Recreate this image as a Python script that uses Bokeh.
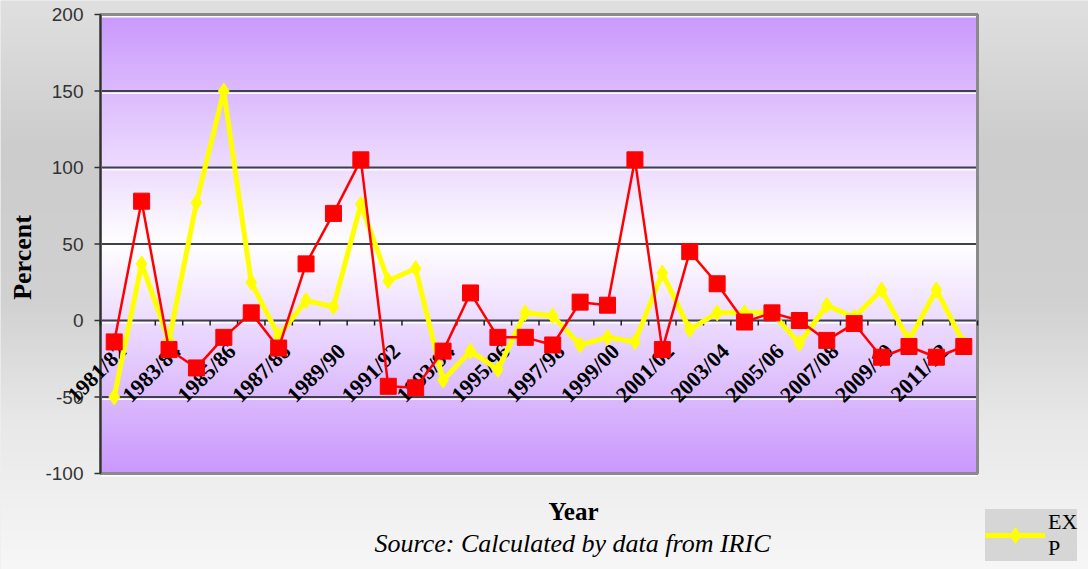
import numpy as np
from bokeh.plotting import figure
from bokeh.models import Range1d, Label, Legend, LegendItem
from bokeh.core.properties import value
from bokeh.embed import file_html
from bokeh.resources import INLINE

# ---------------- data ----------------
categories = ["1981/82", "1982/83", "1983/84", "1984/85", "1985/86", "1986/87",
              "1987/88", "1988/89", "1989/90", "1990/91", "1991/92", "1992/93",
              "1993/94", "1994/95", "1995/96", "1996/97", "1997/98", "1998/99",
              "1999/00", "2000/01", "2001/02", "2002/03", "2003/04", "2004/05",
              "2005/06", "2006/07", "2007/08", "2008/09", "2009/10", "2010/11",
              "2011/12", "2012/13"]
exp_values = [-50, 37, -13, 77, 150, 25, -10, 13, 9, 76, 26, 34,
              -39, -20, -32, 5, 3, -16, -11, -14, 31, -6, 5, 5,
              5, -15, 10, 2, 20, -13, 20, -15]
imp_values = [-14, 78, -19, -31, -11, 5, -18, 37, 70, 105, -43, -44,
              -20, 18, -11, -11, -16, 12, 10, 105, -19, 45, 24, -1,
              5, 0, -13, -2, -24, -17, -24, -17]
y_ticks = [-100, -50, 0, 50, 100, 150, 200]
series_label = "EX\nP"
y_title = "Percent"
x_title = "Year"
source_text = "Source: Calculated by data from IRIC"

xs = list(range(len(categories)))
label_idx = [i for i in xs if i % 2 == 0]
label_txt = [categories[i] for i in label_idx]

# ---------------- geometry (pixels inside the figure) ----------------
FW, FH = 1088, 569
PL, PR, PT, PB = 100, 977, 14, 473
xlo, xhi = -0.5, len(categories) - 0.5
ylo, yhi = y_ticks[0], y_ticks[-1]
sx = (PR - PL) / (xhi - xlo)
sy = (PB - PT) / (yhi - ylo)
x_start = xlo - PL / sx
x_end = xhi + (FW - PR) / sx
y_end = yhi + PT / sy
y_start = ylo - (FH - PB) / sy


def dx(px):
    return x_start + px / sx


def dy(py):
    return y_end - py / sy


p = figure(width=FW, height=FH, output_backend="svg", toolbar_location=None,
           x_range=Range1d(x_start, x_end), y_range=Range1d(y_start, y_end),
           x_axis_location=None, y_axis_location=None,
           min_border=0, min_border_left=0, min_border_right=0,
           min_border_top=0, min_border_bottom=0)
p.xgrid.visible = False
p.ygrid.visible = False
p.outline_line_color = None
p.border_fill_color = "#e0e0e0"
p.background_fill_color = "#e0e0e0"

# outer grey gradient
HO = 285
outer = np.empty((HO, 2), dtype=np.uint32)
ov = outer.view(dtype=np.uint8).reshape((HO, 2, 4))
for r in range(HO):
    py = FH - (r + 0.5) * FH / HO
    g = np.interp(py, [0, 150, 300, 420, 569], [224, 204, 209, 232, 247])
    ov[r, :, 0] = int(g)
    ov[r, :, 1] = int(g)
    ov[r, :, 2] = int(g)
    ov[r, :, 3] = 255
p.image_rgba(image=[outer], x=x_start, y=y_start, dw=x_end - x_start,
             dh=y_end - y_start, level="image")

# plot-area gradient: purple at the edges, white in the middle
H = 300
img = np.empty((H, 2), dtype=np.uint32)
view = img.view(dtype=np.uint8).reshape((H, 2, 4))
purple = np.array([202, 152, 253], dtype=float)
white = np.array([255, 255, 255], dtype=float)
mid = (ylo + yhi) / 2
half = (yhi - ylo) / 2
for r in range(H):
    v = ylo + (r + 0.5) * (yhi - ylo) / H
    t = abs(v - mid) / half
    c = white * (1 - t) + purple * t
    view[r, :, 0] = int(c[0])
    view[r, :, 1] = int(c[1])
    view[r, :, 2] = int(c[2])
    view[r, :, 3] = 255
p.image_rgba(image=[img], x=xlo, y=ylo, dw=xhi - xlo, dh=yhi - ylo, level="image")

# gridlines (dark line with a white highlight under it)
p.segment(x0=[xlo] * len(y_ticks), x1=[xhi] * len(y_ticks),
          y0=[t - 2.2 / sy for t in y_ticks], y1=[t - 2.2 / sy for t in y_ticks],
          line_color="#ffffff", line_width=1.5)
p.segment(x0=[xlo] * len(y_ticks), x1=[xhi] * len(y_ticks),
          y0=y_ticks, y1=y_ticks, line_color="#3f3f4f", line_width=2)

# plot area border
p.quad(left=[xlo], right=[xhi], bottom=[ylo], top=[yhi], fill_color=None,
       line_color="#8a8a8a", line_width=3)

# y axis line, ticks and labels
p.segment(x0=[xlo], x1=[xlo], y0=[ylo], y1=[yhi], line_color="#303030", line_width=2)
p.segment(x0=[xlo - 6 / sx] * len(y_ticks), x1=[xlo] * len(y_ticks),
          y0=y_ticks, y1=y_ticks, line_color="#303030", line_width=1.5)
p.text(x=[xlo] * len(y_ticks), y=y_ticks, text=[str(t) for t in y_ticks],
       x_offset=-17, text_align="right", text_baseline="middle",
       text_font=value("Liberation Sans"), text_font_size="19px",
       text_color="#333333")

# x axis (at zero) ticks and labels
bounds = [i - 0.5 for i in range(len(categories) + 1)]
p.segment(x0=bounds, x1=bounds, y0=[0] * len(bounds), y1=[-5 / sy] * len(bounds),
          line_color="#202020", line_width=1.5)
p.text(x=label_idx, y=[0] * len(label_idx), text=label_txt, angle=np.pi / 4,
       x_offset=8, y_offset=27, text_align="right", text_baseline="middle",
       text_font=value("Liberation Serif"), text_font_style="bold",
       text_font_size="22px", text_color="#000000")

# series
yl = p.line(xs, exp_values, line_color="#ffff00", line_width=5)
yd = p.scatter(xs, exp_values, marker="diamond", size=16, fill_color="#ffff00",
               line_color="#ffff00")
p.line(xs, imp_values, line_color="#ff0000", line_width=2.5)
p.scatter(xs, imp_values, marker="square", size=16, fill_color="#ff0000",
          line_color="#ff0000")

# titles
p.add_layout(Label(x=dx(22), y=dy(257), text=y_title, angle=np.pi / 2,
                   text_align="center", text_baseline="middle",
                   text_font="Liberation Serif", text_font_style="bold",
                   text_font_size="26px", text_color="#000000"))
p.add_layout(Label(x=dx(573), y=dy(511), text=x_title,
                   text_align="center", text_baseline="middle",
                   text_font="Liberation Serif", text_font_style="bold",
                   text_font_size="25px", text_color="#000000"))
p.add_layout(Label(x=dx(572), y=dy(543), text=source_text,
                   text_align="center", text_baseline="middle",
                   text_font="Liberation Serif", text_font_style="italic",
                   text_font_size="26px", text_color="#000000"))

legend = Legend(items=[LegendItem(label=series_label, renderers=[yl, yd])],
                location=(985, 8), orientation="vertical",
                label_text_font="Liberation Serif", label_text_font_size="22px",
                label_text_line_height=1.5,
                label_text_color="#000000", glyph_width=60, glyph_height=40,
                label_standoff=3, padding=12, margin=0, spacing=0,
                background_fill_color="#d6d6d6", background_fill_alpha=1.0,
                border_line_color=None)
p.add_layout(legend, "center")

open("out.html", "w").write(file_html(p, INLINE))
